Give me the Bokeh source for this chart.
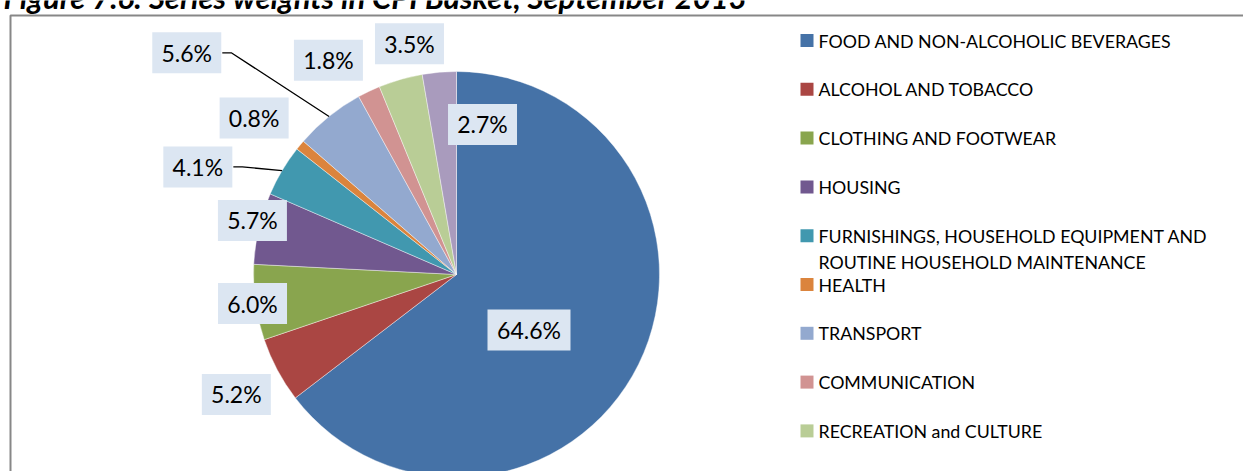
import math
import textwrap
from bokeh.plotting import figure
from bokeh.models import Range1d
from bokeh.core.properties import value
from bokeh.embed import file_html
from bokeh.resources import INLINE

# ---------------- data ----------------
title_text = "Figure 7.6: Series weights in CPI Basket, September 2013"
categories = [
    "FOOD AND NON-ALCOHOLIC BEVERAGES",
    "ALCOHOL AND TOBACCO",
    "CLOTHING AND FOOTWEAR",
    "HOUSING",
    "FURNISHINGS, HOUSEHOLD EQUIPMENT AND ROUTINE HOUSEHOLD MAINTENANCE",
    "HEALTH",
    "TRANSPORT",
    "COMMUNICATION",
    "RECREATION and CULTURE",
    "MISCELLANEOUS GOODS AND SERVICES",
]
weights = [64.6, 5.2, 6.0, 5.7, 4.1, 0.8, 5.6, 1.8, 3.5, 2.7]
colors = ["#4572A7", "#AA4643", "#89A54E", "#71588F", "#4198AF",
          "#DB843D", "#93A9CF", "#D19392", "#B9CD96", "#A99BBD"]

# ---------------- layout ----------------
W, H = 1243, 471
CX, CY = 456, 274          # pie centre (page px)
R = 203                    # pie radius
# data-label placement: radial factor and angular nudge (deg, clockwise)
lab_rf = [0.45, 1.235, 1.015, 1.04, 1.38, 1.26, 1.72, 1.23, 1.16, 0.75]
lab_nudge = [11.2, -0.5, -0.2, 1.7, -8.2, -1.9, -11.7, -5.3, 4.5, 14.7]
leader = [False, False, False, False, True, False, True, False, False, False]
LAB_FONT = "23px"
LEG_X, LEG_Y0, LEG_STEP, LEG_SQ = 800, 40, 48.8, 13
LEG_FONT = "17.8px"
FONT = value("Lato")


def Y(py):
    return H - py


p = figure(width=W, height=H, x_range=Range1d(0, W), y_range=Range1d(0, H),
           output_backend="svg", toolbar_location=None, min_border=0,
           x_axis_type=None, y_axis_type=None,
           background_fill_color="white", border_fill_color="white",
           outline_line_color=None)
p.grid.visible = False
p.styles = {"margin": "0px"}

# chart-area border
p.quad(left=[10], right=[W + 40], top=[Y(15)], bottom=[-40],
       fill_color=None, line_color="#878787", line_width=2)

# title (only its lower part falls inside the picture)
p.text(x=[3], y=[Y(-4)], text=[title_text], text_font=FONT,
       text_font_style="bold italic", text_font_size="31px",
       text_baseline="alphabetic", text_align="left", text_color="black")

# pie
total = sum(weights)
cum = [0.0]
for w in weights:
    cum.append(cum[-1] + w)
starts = [math.pi / 2 - 2 * math.pi * c / total for c in cum[:-1]]
ends = [math.pi / 2 - 2 * math.pi * c / total for c in cum[1:]]
p.wedge(x=CX, y=Y(CY), radius=R, start_angle=starts, end_angle=ends,
        direction="clock", fill_color=colors, line_color="white",
        line_width=0.7, line_alpha=0.6)

# data labels
lx, ly, ltxt, lw = [], [], [], []
for i, w in enumerate(weights):
    mid = 360 * (cum[i] + w / 2) / total
    th = math.radians(mid + lab_nudge[i])
    x = CX + lab_rf[i] * R * math.sin(th)
    y = Y(CY) + lab_rf[i] * R * math.cos(th)
    t = f"{w:.1f}%"
    bw = 14 * len(t) + 13
    lx.append(x); ly.append(y); ltxt.append(t); lw.append(bw)
    if leader[i]:
        thm = math.radians(mid)
        ex = CX + R * math.sin(thm)
        ey = Y(CY) + R * math.cos(thm)
        rx = x + bw / 2
        p.line(x=[ex, rx + 10, rx + 1], y=[ey, y, y], line_color="black",
               line_width=1.3)

p.rect(x=lx, y=ly, width=lw, height=41, fill_color="#DCE6F2", line_color=None)
p.text(x=lx, y=ly, text=ltxt, text_font=FONT, text_font_size=LAB_FONT,
       text_align="center", text_baseline="middle", text_color="black")

# legend (rows that fall below the visible area are not drawn)
sq_x, sq_y, sq_c, tx, ty, tt = [], [], [], [], [], []
for i, name in enumerate(categories):
    yc = LEG_Y0 + LEG_STEP * i
    if yc + 10 > H:
        continue
    sq_x.append(LEG_X + LEG_SQ / 2)
    sq_y.append(Y(yc))
    sq_c.append(colors[i])
    for j, line in enumerate(textwrap.wrap(name, 36)):
        tx.append(LEG_X + 18)
        ty.append(Y(yc + 26 * j))
        tt.append(line)
p.rect(x=sq_x, y=sq_y, width=LEG_SQ, height=LEG_SQ, fill_color=sq_c,
       line_color=None)
p.text(x=tx, y=ty, text=tt, text_font=FONT, text_font_size=LEG_FONT,
       text_align="left", text_baseline="middle", text_color="black")

open("out.html", "w").write(file_html(p, INLINE))
